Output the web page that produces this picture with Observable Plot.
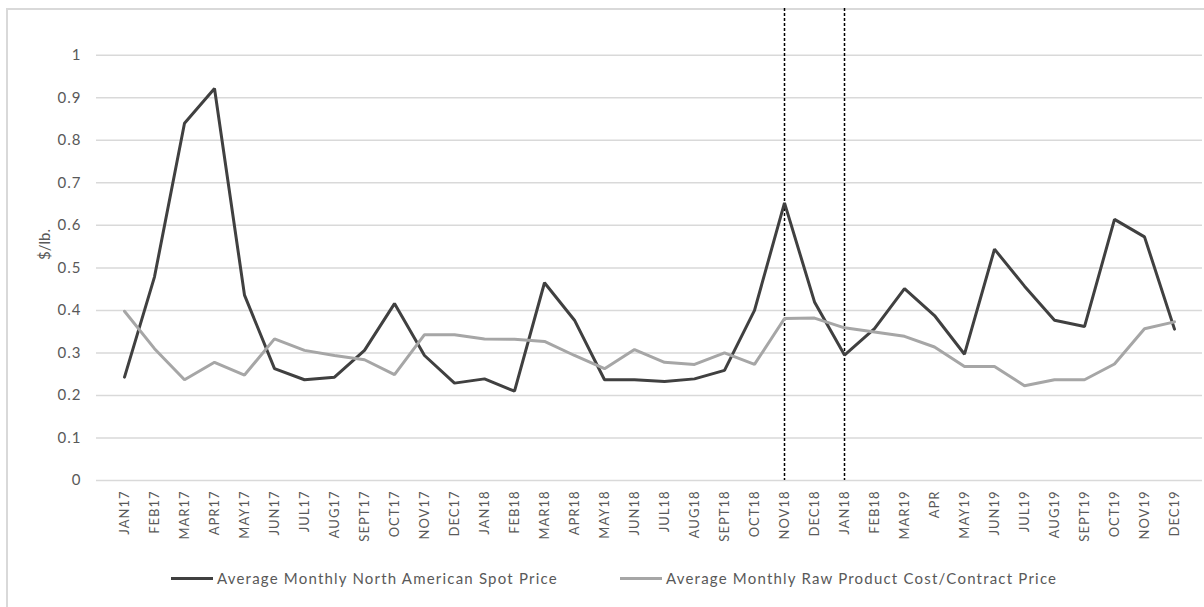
<!DOCTYPE html>
<html>
<head>
<meta charset="utf-8">
<script src="https://cdn.jsdelivr.net/npm/d3@7"></script>
<script src="https://cdn.jsdelivr.net/npm/@observablehq/plot@0.6"></script>
<style>
  html, body { margin: 0; padding: 0; background: #fff; overflow: hidden; }
  body { position: relative; width: 1204px; height: 607px; font-family: Lato, "Noto Sans", sans-serif; }
  #frame { position: absolute; left: 6px; top: 8px; width: 1220px; height: 620px; border: 2px solid #d9d9d9; box-sizing: border-box; }
  #chart { position: absolute; left: 0; top: 0; }
  #legend { position: absolute; top: 568px; left: 0; width: 1204px; height: 20px; font-size: 15px; letter-spacing: 1.2px; color: #595959; }
  .item { position: absolute; top: 0; display: flex; align-items: center; height: 20px; }
  .swatch { width: 42px; height: 3px; margin-right: 4px; }
  #chart g[aria-label="x-axis tick label"] text { letter-spacing: 1px; }
  #chart g[aria-label="y-axis tick label"] text { letter-spacing: 1px; }
</style>
</head>
<body>
<div id="frame"></div>
<div id="chart"></div>
<div id="legend"></div>
<script>
// Month labels as printed on the category axis (two 2019 months carry the "18" label)
const months = ["JAN17","FEB17","MAR17","APR17","MAY17","JUN17","JUL17","AUG17","SEPT17","OCT17","NOV17","DEC17",
  "JAN18","FEB18","MAR18","APR18","MAY18","JUN18","JUL18","AUG18","SEPT18","OCT18","NOV18","DEC18",
  "JAN18","FEB18","MAR19","APR","MAY19","JUN19","JUL19","AUG19","SEPT19","OCT19","NOV19","DEC19"];

// Average Monthly North American Spot Price, $/lb.
const spotPrice = [0.243,0.479,0.84,0.922,0.436,0.263,0.237,0.243,0.306,0.416,0.294,0.229,
  0.239,0.21,0.465,0.377,0.237,0.237,0.233,0.239,0.259,0.40,0.653,0.42,
  0.295,0.357,0.451,0.388,0.297,0.544,0.457,0.377,0.362,0.614,0.573,0.356];

// Average Monthly Raw Product Cost/Contract Price, $/lb.
const contractPrice = [0.398,0.31,0.237,0.278,0.248,0.333,0.306,0.294,0.284,0.249,0.343,0.343,
  0.333,0.332,0.327,0.294,0.263,0.308,0.278,0.273,0.30,0.273,0.381,0.382,
  0.359,0.349,0.339,0.314,0.268,0.268,0.223,0.237,0.237,0.274,0.357,0.373];

const seriesNames = ["Average Monthly North American Spot Price", "Average Monthly Raw Product Cost/Contract Price"];
const seriesColors = ["#404040", "#a6a6a6"];

// Months bracketed by dotted reference lines (NOV18 and the following JAN)
const markedMonths = [22, 24];

const yTicks = d3.range(0, 11).map(d => d / 10);
const idx = months.map((_, i) => i);

const rows = [
  ...idx.map(i => ({i, v: spotPrice[i], s: seriesNames[0]})),
  ...idx.map(i => ({i, v: contractPrice[i], s: seriesNames[1]}))
];

const chart = Plot.plot({
  width: 1204,
  height: 555,
  marginLeft: 96,
  marginRight: 2,
  marginTop: 8,
  marginBottom: 75,
  style: {fontFamily: "Lato, 'Noto Sans', sans-serif", fontSize: "14px", color: "#595959", background: "transparent"},
  x: {type: "point", domain: idx, padding: 0.5},
  y: {domain: [0, 1.11]},
  color: {domain: seriesNames, range: seriesColors},
  marks: [
    Plot.gridY(yTicks, {stroke: "#d9d9d9", strokeOpacity: 1, strokeWidth: 1.5}),
    Plot.axisY(yTicks, {tickSize: 0, tickPadding: 15, tickFormat: d => String(d), label: "$/lb.", labelAnchor: "center", labelArrow: "none", labelOffset: 57, fontSize: 15}),
    Plot.axisX(idx, {tickSize: 0, tickPadding: 10, tickRotate: -90, tickFormat: i => months[i], label: null, fontSize: 13}),
    Plot.ruleX(markedMonths, {stroke: "#000", strokeWidth: 1.5, strokeDasharray: "3,2"}),
    Plot.line(rows, {x: "i", y: "v", z: "s", stroke: "s", strokeWidth: 3, strokeLinejoin: "miter", curve: "linear"})
  ]
});
document.getElementById("chart").appendChild(chart);

// Legend below the plot
const legend = document.getElementById("legend");
const legendLeft = [171, 620];
seriesNames.forEach((name, k) => {
  const item = document.createElement("div");
  item.className = "item";
  item.style.left = legendLeft[k] + "px";
  const sw = document.createElement("span");
  sw.className = "swatch";
  sw.style.background = seriesColors[k];
  const tx = document.createElement("span");
  tx.textContent = name;
  item.appendChild(sw);
  item.appendChild(tx);
  legend.appendChild(item);
});
</script>
</body>
</html>
